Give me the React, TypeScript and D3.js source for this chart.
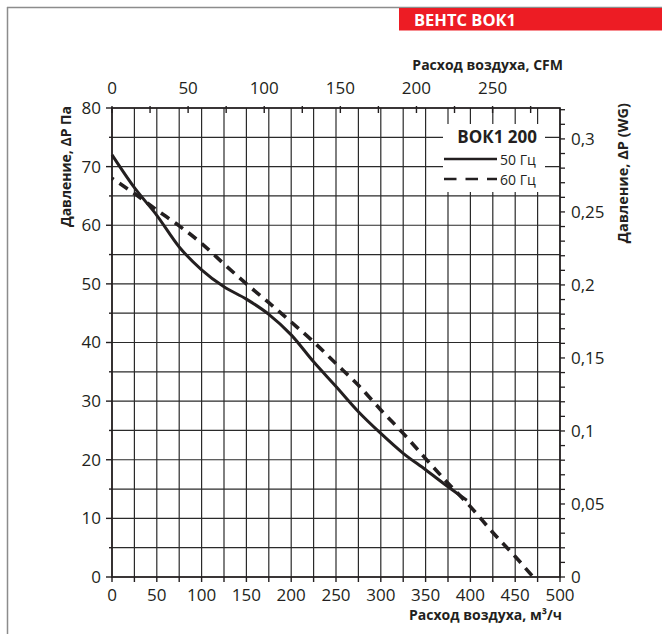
import { useMemo } from "react";
import * as d3 from "d3";

// 50 Hz curve, m3/h vs Pa
const flow50 = [0, 25, 50, 75, 100, 125, 150, 175, 200, 225, 250, 275, 300, 325, 350, 375, 396];
const pressure50 = [72, 66.4, 61.7, 56.3, 52.4, 49.5, 47.4, 44.8, 41.3, 36.7, 32.5, 28.2, 24.5, 21.1, 18.3, 15.4, 13.1];

// 60 Hz curve
const flow60 = [0, 25, 50, 75, 100, 125, 150, 175, 200, 225, 250, 275, 300, 325, 350, 375, 400, 425, 450, 470];
const pressure60 = [68, 65.4, 62.6, 59.9, 56.9, 53.4, 50, 46.8, 43.5, 40.1, 36.4, 32.7, 28.5, 24.5, 20.2, 16, 12, 7.6, 3.5, 0];

const flowTicks = [0, 50, 100, 150, 200, 250, 300, 350, 400, 450, 500];
const pressureTicks = [0, 10, 20, 30, 40, 50, 60, 70, 80];
const cfmTicks = [0, 50, 100, 150, 200, 250];
const wgTicks = [0, 0.05, 0.1, 0.15, 0.2, 0.25, 0.3];
const wgLabels = ["0", "0,05", "0,1", "0,15", "0,2", "0,25", "0,3"];

const M3H_PER_CFM = 1.699;
const PA_PER_WG = 249.09;

const ink = "#231f20";
const font = "'Open Sans', 'Noto Sans', sans-serif";

type Pt = { q: number; p: number };

export default function App() {
  const left = 112;
  const right = 560;
  const top = 108;
  const bottom = 577;

  const x = d3.scaleLinear().domain([0, 500]).range([left, right]);
  const y = d3.scaleLinear().domain([0, 80]).range([bottom, top]);

  const { solid, dashed } = useMemo(() => {
    const line = d3
      .line<Pt>()
      .x((d) => x(d.q))
      .y((d) => y(d.p))
      .curve(d3.curveMonotoneX);
    const s = flow50.map((q, i) => ({ q, p: pressure50[i] }));
    const h = flow60.map((q, i) => ({ q, p: pressure60[i] }));
    return { solid: line(s) ?? "", dashed: line(h) ?? "" };
  }, []);

  const vGrid = d3.range(0, 501, 25);
  const hGrid = d3.range(0, 81, 5);
  const cfmMinor = d3.range(0, 276, 25);
  const wgMinor = d3.range(0, 33).map((i) => i / 100);

  return (
    <svg
      width={662}
      height={634}
      style={{ position: "absolute", left: 0, top: 0, background: "#fff" }}
    >
      {/* page frame + banner */}
      <line x1={7} x2={662} y1={7.5} y2={7.5} stroke="#8c8c8c" strokeWidth={1.5} />
      <line x1={7.5} x2={7.5} y1={7} y2={634} stroke="#8c8c8c" strokeWidth={1.5} />
      <rect x={399} y={8} width={263} height={22.5} fill="#ed1c24" />
      <text x={414} y={26} fill="#fff" fontFamily={font} fontWeight={700} fontSize={16.5}>
        ВЕНТС ВОК1
      </text>

      {/* grid */}
      <g stroke="#2a2a2a" strokeWidth={1.2}>
        {vGrid.map((v) => (
          <line key={`v${v}`} x1={x(v)} x2={x(v)} y1={top} y2={bottom} />
        ))}
        {hGrid.map((v) => (
          <line key={`h${v}`} x1={left} x2={right} y1={y(v)} y2={y(v)} />
        ))}
      </g>

      {/* legend background */}
      <rect x={443} y={124} width={102} height={68} fill="#fff" />

      {/* frame */}
      <rect x={left} y={top} width={right - left} height={bottom - top} fill="none" stroke={ink} strokeWidth={1.6} />

      {/* bottom axis */}
      {vGrid.map((v) => (
        <line key={`bt${v}`} x1={x(v)} x2={x(v)} y1={bottom} y2={bottom + 5} stroke={ink} strokeWidth={1.4} />
      ))}
      {flowTicks.map((v) => (
        <text key={`bl${v}`} x={x(v)} y={601} textAnchor="middle" fontFamily={font} fontSize={17} fill={ink}>
          {v}
        </text>
      ))}
      <text x={562} y={620} textAnchor="end" fontFamily={font} fontWeight={700} fontSize={14} fill={ink}>
        Расход воздуха, м³/ч
      </text>

      {/* left axis */}
      {hGrid.map((v) => (
        <line
          key={`lt${v}`}
          x1={left - (v % 10 === 0 ? 6 : 3)}
          x2={left}
          y1={y(v)}
          y2={y(v)}
          stroke={ink}
          strokeWidth={1.4}
        />
      ))}
      {pressureTicks.map((v) => (
        <text key={`ll${v}`} x={101} y={y(v)} dy="0.35em" textAnchor="end" fontFamily={font} fontSize={17} fill={ink}>
          {v}
        </text>
      ))}
      <text
        transform="translate(71,106) rotate(-90)"
        textAnchor="end"
        fontFamily={font}
        fontWeight={700}
        fontSize={14}
        fill={ink}
      >
        Давление, ΔP Па
      </text>

      {/* top axis, CFM */}
      {cfmMinor.map((v) => (
        <line
          key={`tt${v}`}
          x1={x(v * M3H_PER_CFM)}
          x2={x(v * M3H_PER_CFM)}
          y1={top - 2}
          y2={top + 5}
          stroke={ink}
          strokeWidth={1.4}
        />
      ))}
      {cfmTicks.map((v) => (
        <text key={`tl${v}`} x={x(v * M3H_PER_CFM)} y={94} textAnchor="middle" fontFamily={font} fontSize={17} fill={ink}>
          {v}
        </text>
      ))}
      <text x={563} y={70} textAnchor="end" fontFamily={font} fontWeight={700} fontSize={14} fill={ink}>
        Расход воздуха, CFM
      </text>

      {/* right axis, WG */}
      {wgMinor.map((v) => (
        <line
          key={`rt${v}`}
          x1={right}
          x2={right + 5}
          y1={y(v * PA_PER_WG)}
          y2={y(v * PA_PER_WG)}
          stroke={ink}
          strokeWidth={1.3}
        />
      ))}
      {wgTicks.map((v, i) => (
        <text key={`rl${v}`} x={571} y={y(v * PA_PER_WG)} dy="0.35em" fontFamily={font} fontSize={17} fill={ink}>
          {wgLabels[i]}
        </text>
      ))}
      <text
        transform="translate(628,103) rotate(-90)"
        textAnchor="end"
        fontFamily={font}
        fontWeight={700}
        fontSize={14.5}
        fill={ink}
      >
        Давление, ΔP (WG)
      </text>

      {/* curves */}
      <path d={dashed} fill="none" stroke={ink} strokeWidth={3.6} strokeDasharray="10 7" strokeDashoffset={8} />
      <path d={solid} fill="none" stroke={ink} strokeWidth={3} />

      {/* legend */}
      <text x={537} y={143} textAnchor="end" fontFamily={font} fontWeight={700} fontSize={17} fill={ink}>
        ВОК1 200
      </text>
      <line x1={444} x2={497} y1={159} y2={159} stroke={ink} strokeWidth={2.6} />
      <text x={500} y={164.5} fontFamily={font} fontSize={14} fill={ink}>
        50 Гц
      </text>
      <line x1={444} x2={497} y1={179} y2={179} stroke={ink} strokeWidth={2.6} strokeDasharray="12.5 9" />
      <text x={500} y={184.5} fontFamily={font} fontSize={14} fill={ink}>
        60 Гц
      </text>
    </svg>
  );
}
